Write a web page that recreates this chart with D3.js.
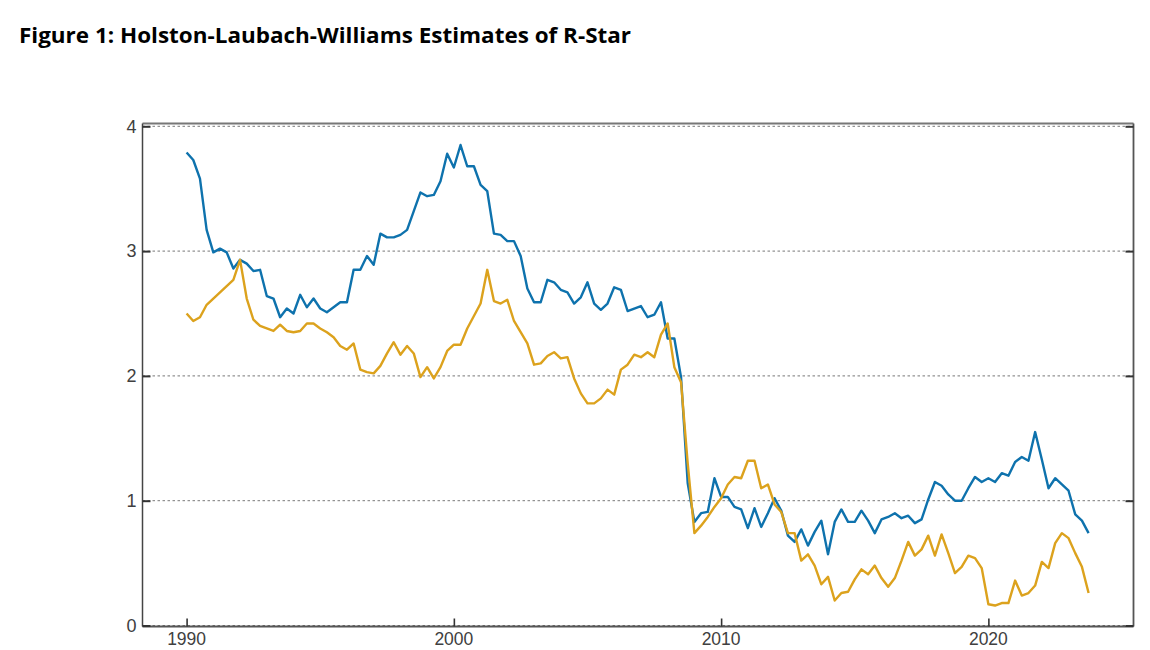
<!DOCTYPE html>
<html>
<head>
<meta charset="utf-8">
<script src="https://cdn.jsdelivr.net/npm/d3@7"></script>
<style>
  html, body { margin: 0; padding: 0; background: #fff; }
  svg { display: block; }
</style>
</head>
<body>
<svg id="chart" width="1150" height="650"></svg>
<script>
const title = "Figure 1: Holston-Laubach-Williams Estimates of R-Star";
const startYear = 1990;
const periodsPerYear = 4;
const xTickValues = [1990, 2000, 2010, 2020];
const yTickValues = [0, 1, 2, 3, 4];

// HLW r-star estimates, quarterly 1990Q1 - 2023Q4
const seriesBlue = [
  3.79, 3.73, 3.58, 3.17, 2.99, 3.02, 2.99, 2.86, 2.93, 2.90,
  2.84, 2.85, 2.64, 2.62, 2.47, 2.54, 2.50, 2.65, 2.55, 2.62,
  2.54, 2.51, 2.55, 2.59, 2.59, 2.85, 2.85, 2.96, 2.89, 3.14,
  3.11, 3.11, 3.13, 3.17, 3.32, 3.47, 3.44, 3.45, 3.56, 3.78,
  3.67, 3.85, 3.68, 3.68, 3.53, 3.48, 3.14, 3.13, 3.08, 3.08,
  2.96, 2.70, 2.59, 2.59, 2.77, 2.75, 2.69, 2.67, 2.58, 2.63,
  2.75, 2.58, 2.53, 2.58, 2.71, 2.69, 2.52, 2.54, 2.56, 2.47,
  2.49, 2.59, 2.30, 2.30, 1.99, 1.14, 0.83, 0.90, 0.91, 1.18,
  1.03, 1.03, 0.95, 0.93, 0.78, 0.94, 0.79, 0.90, 1.02, 0.92,
  0.72, 0.67, 0.77, 0.64, 0.75, 0.84, 0.57, 0.83, 0.93, 0.83,
  0.83, 0.92, 0.84, 0.74, 0.85, 0.87, 0.90, 0.86, 0.88, 0.82,
  0.85, 1.01, 1.15, 1.12, 1.05, 1.00, 1.00, 1.10, 1.19, 1.15,
  1.18, 1.15, 1.22, 1.20, 1.31, 1.35, 1.32, 1.55, 1.33, 1.10,
  1.18, 1.13, 1.08, 0.89, 0.84, 0.74
];
const seriesGold = [
  2.50, 2.44, 2.47, 2.57, 2.62, 2.67, 2.72, 2.77, 2.93, 2.62,
  2.45, 2.40, 2.38, 2.36, 2.41, 2.36, 2.35, 2.36, 2.42, 2.42,
  2.38, 2.35, 2.31, 2.24, 2.21, 2.26, 2.05, 2.03, 2.02, 2.08,
  2.18, 2.27, 2.17, 2.24, 2.18, 1.99, 2.07, 1.98, 2.07, 2.20,
  2.25, 2.25, 2.38, 2.48, 2.58, 2.85, 2.60, 2.58, 2.61, 2.44,
  2.35, 2.26, 2.09, 2.10, 2.16, 2.19, 2.14, 2.15, 1.98, 1.86,
  1.78, 1.78, 1.82, 1.89, 1.85, 2.05, 2.09, 2.17, 2.15, 2.19,
  2.15, 2.33, 2.42, 2.07, 1.95, 1.30, 0.74, 0.80, 0.87, 0.95,
  1.02, 1.13, 1.19, 1.18, 1.32, 1.32, 1.10, 1.13, 0.97, 0.91,
  0.74, 0.74, 0.52, 0.57, 0.48, 0.33, 0.39, 0.20, 0.26, 0.27,
  0.37, 0.45, 0.41, 0.48, 0.38, 0.31, 0.38, 0.52, 0.67, 0.56,
  0.61, 0.72, 0.56, 0.73, 0.58, 0.42, 0.47, 0.56, 0.54, 0.46,
  0.17, 0.16, 0.18, 0.18, 0.36, 0.24, 0.26, 0.32, 0.51, 0.46,
  0.66, 0.74, 0.70, 0.58, 0.47, 0.26
];

const svg = d3.select("#chart");

const plot = { left: 142.5, right: 1133.5, top: 123.5, bottom: 626.5 };

const x = d3.scaleLinear().domain([1988.35, 2025.43]).range([plot.left, plot.right]);
const y = d3.scaleLinear().domain([0, 4]).range([625.5, 126.3]);

// Title
svg.append("text")
  .attr("x", 19)
  .attr("y", 43)
  .attr("font-family", "'Open Sans', 'Liberation Sans', sans-serif")
  .attr("font-weight", "bold")
  .attr("font-size", 21.5)
  .attr("textLength", 612)
  .attr("lengthAdjust", "spacingAndGlyphs")
  .attr("fill", "#000")
  .text(title);

// Grid lines (dotted)
svg.append("g")
  .selectAll("line")
  .data(yTickValues)
  .join("line")
  .attr("x1", plot.left)
  .attr("x2", plot.right)
  .attr("y1", d => y(d))
  .attr("y2", d => y(d))
  .attr("stroke", "#555")
  .attr("stroke-width", 0.8)
  .attr("stroke-dasharray", "2.5,2.5");

// Lines
const toPoints = arr => arr.map((v, i) => ({ t: startYear + i / periodsPerYear, v }));
const line = d3.line().x(d => x(d.t)).y(d => y(d.v));

svg.append("path")
  .datum(toPoints(seriesBlue))
  .attr("fill", "none")
  .attr("stroke", "#0e72ad")
  .attr("stroke-width", 2.4)
  .attr("stroke-linejoin", "round")
  .attr("d", line);

svg.append("path")
  .datum(toPoints(seriesGold))
  .attr("fill", "none")
  .attr("stroke", "#dca21d")
  .attr("stroke-width", 2.4)
  .attr("stroke-linejoin", "round")
  .attr("d", line);

// Frame
const frame = svg.append("g").attr("fill", "none");
frame.append("line").attr("x1", plot.left).attr("x2", plot.right).attr("y1", plot.top).attr("y2", plot.top)
  .attr("stroke", "#777").attr("stroke-width", 2);
frame.append("line").attr("x1", plot.right).attr("x2", plot.right).attr("y1", plot.top).attr("y2", plot.bottom)
  .attr("stroke", "#555").attr("stroke-width", 1.8);
frame.append("line").attr("x1", plot.left).attr("x2", plot.right).attr("y1", plot.bottom).attr("y2", plot.bottom)
  .attr("stroke", "#555").attr("stroke-width", 1.8);
frame.append("line").attr("x1", plot.left).attr("x2", plot.left).attr("y1", plot.top).attr("y2", plot.bottom)
  .attr("stroke", "#444").attr("stroke-width", 1.5);

// Left Y axis (ticks inward)
const yAxisL = svg.append("g")
  .attr("transform", `translate(${plot.left},0)`)
  .call(d3.axisRight(y).tickValues(yTickValues).tickSize(8).tickFormat(""));
yAxisL.select(".domain").remove();
yAxisL.selectAll(".tick line").attr("stroke", "#333").attr("stroke-width", 2);

svg.append("g")
  .selectAll("text")
  .data(yTickValues)
  .join("text")
  .attr("x", plot.left - 6)
  .attr("y", d => y(d))
  .attr("dy", "0.35em")
  .attr("text-anchor", "end")
  .attr("font-family", "'Liberation Sans', Arial, sans-serif")
  .attr("font-size", 18)
  .attr("fill", "#404040")
  .text(d => d);

// Right Y axis (ticks inward)
const yAxisR = svg.append("g")
  .attr("transform", `translate(${plot.right},0)`)
  .call(d3.axisLeft(y).tickValues(yTickValues).tickSize(8).tickFormat(""));
yAxisR.select(".domain").remove();
yAxisR.selectAll(".tick line").attr("stroke", "#333").attr("stroke-width", 2);

// Bottom X axis (ticks inward)
const xAxis = svg.append("g")
  .attr("transform", `translate(0,${plot.bottom})`)
  .call(d3.axisTop(x).tickValues(xTickValues).tickSize(8).tickFormat(""));
xAxis.select(".domain").remove();
xAxis.selectAll(".tick line").attr("stroke", "#333").attr("stroke-width", 1.6);

svg.append("g")
  .selectAll("text")
  .data(xTickValues)
  .join("text")
  .attr("x", d => x(d))
  .attr("y", 645)
  .attr("text-anchor", "middle")
  .attr("font-family", "'Liberation Sans', Arial, sans-serif")
  .attr("font-size", 17.5)
  .attr("fill", "#404040")
  .text(d => d);
</script>
</body>
</html>
